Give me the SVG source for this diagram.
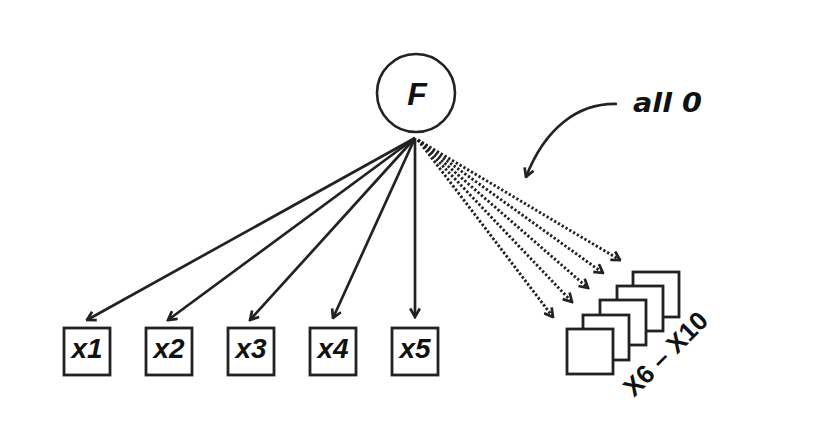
<svg xmlns="http://www.w3.org/2000/svg" width="831" height="424" viewBox="0 0 831 424">
<style>
.ln{stroke:#222;stroke-width:2.7;fill:none}
.dot{stroke:#222;stroke-width:2.9;fill:none;stroke-dasharray:2.3 2.1}
.box{fill:#fff;stroke:#222;stroke-width:2.8}
.lbl{font-family:"Liberation Sans",Arial,sans-serif;font-weight:bold;font-style:italic;fill:#111;text-anchor:middle}
</style>
<defs>
<marker id="ah" markerUnits="userSpaceOnUse" viewBox="0 0 12 12" markerWidth="12" markerHeight="12" refX="10.5" refY="6" orient="auto">
<path d="M2,1.2 L10.5,6 L2,10.8" fill="none" stroke="#222" stroke-width="2.7"/>
</marker>
</defs>
<rect width="831" height="424" fill="#fff"/>
<g id="connectors">
<line class="ln" x1="415" y1="138" x2="87" y2="320" marker-end="url(#ah)"/>
<line class="ln" x1="415" y1="138" x2="168" y2="320" marker-end="url(#ah)"/>
<line class="ln" x1="415" y1="138" x2="250" y2="320" marker-end="url(#ah)"/>
<line class="ln" x1="415" y1="138" x2="333" y2="318" marker-end="url(#ah)"/>
<line class="ln" x1="415" y1="138" x2="415" y2="317" marker-end="url(#ah)"/>
<line class="dot" x1="418" y1="140" x2="553" y2="317" marker-end="url(#ah)"/>
<line class="dot" x1="418" y1="140" x2="572" y2="302" marker-end="url(#ah)"/>
<line class="dot" x1="418" y1="140" x2="588" y2="288" marker-end="url(#ah)"/>
<line class="dot" x1="418" y1="140" x2="603" y2="273" marker-end="url(#ah)"/>
<line class="dot" x1="418" y1="140" x2="620" y2="260" marker-end="url(#ah)"/>
<path class="ln" d="M617,104 C578,103 545,128 526,177" stroke-width="3" marker-end="url(#ah)"/>
</g>
<g id="F">
<circle cx="416" cy="93" r="39" fill="#fff" stroke="#222" stroke-width="2.6"/>
<text class="lbl" x="417" y="105" font-size="32">F</text>
</g>
<g id="x1"><rect class="box" x="64" y="328" width="46" height="47"/><text class="lbl" x="87" y="358" font-size="28">x1</text></g>
<g id="x2"><rect class="box" x="146" y="328" width="46" height="47"/><text class="lbl" x="169" y="358" font-size="28">x2</text></g>
<g id="x3"><rect class="box" x="228" y="328" width="46" height="47"/><text class="lbl" x="251" y="358" font-size="28">x3</text></g>
<g id="x4"><rect class="box" x="310" y="328" width="46" height="47"/><text class="lbl" x="333" y="358" font-size="28">x4</text></g>
<g id="x5"><rect class="box" x="392" y="328" width="46" height="47"/><text class="lbl" x="415" y="358" font-size="28">x5</text></g>
<g id="x6-x10">
<rect class="box" x="633" y="272" width="46" height="45"/>
<rect class="box" x="617" y="286" width="46" height="45"/>
<rect class="box" x="600" y="300" width="46" height="45"/>
<rect class="box" x="583" y="315" width="46" height="45"/>
<rect class="box" x="567" y="329" width="46" height="45"/>
<text x="634" y="398" transform="rotate(-45 634 398)" font-family="'Liberation Sans',Arial,sans-serif" font-weight="bold" font-size="26" fill="#111">X6 – X10</text>
</g>
<g id="note">
<text x="633" y="112" font-family="'DejaVu Sans',sans-serif" font-weight="bold" font-style="italic" font-size="27" fill="#111" textLength="69" lengthAdjust="spacingAndGlyphs">all 0</text>
</g>
</svg>
